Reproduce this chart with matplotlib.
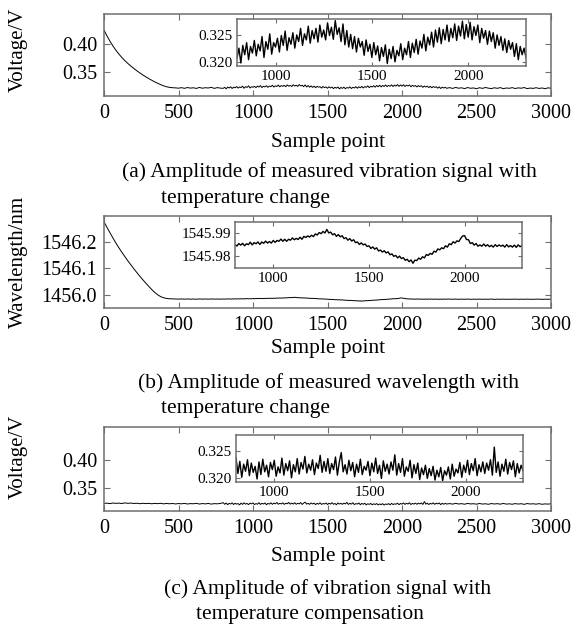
import numpy as np
import matplotlib
matplotlib.use('Agg')
import matplotlib.pyplot as plt

######################################################################
# data (sample index on x)

# sample spacing of the hand-read points
head_x = np.arange(0, 800, 20)       # 0 .. 780
mid_x = np.arange(800, 2310, 10)     # 800 .. 2300 (the inset window)
tail_x = np.arange(2320, 3001, 20)   # 2320 .. 3000

# (a) measured vibration amplitude, V
volt_a_head = [
    0.4250, 0.4145, 0.4050, 0.3965, 0.3888, 0.3820, 0.3758, 0.3703, 0.3653, 0.3606,
    0.3563, 0.3522, 0.3484, 0.3448, 0.3414, 0.3382, 0.3352, 0.3324, 0.3298, 0.3274,
    0.3253, 0.3236, 0.3225, 0.3219, 0.3216, 0.3211, 0.3220, 0.3208, 0.3222, 0.3212,
    0.3218, 0.3206, 0.3224, 0.3210, 0.3219, 0.3214, 0.3226, 0.3207, 0.3221, 0.3212,
]
volt_a_mid = [
    0.3208, 0.3226, 0.3199, 0.3231, 0.3214, 0.3236, 0.3205, 0.3229, 0.3217, 0.3240,
    0.3212, 0.3233, 0.3221, 0.3247, 0.3209, 0.3238, 0.3224, 0.3252, 0.3215, 0.3236,
    0.3228, 0.3244, 0.3219, 0.3249, 0.3231, 0.3257, 0.3222, 0.3245, 0.3233, 0.3254,
    0.3226, 0.3250, 0.3238, 0.3262, 0.3231, 0.3252, 0.3241, 0.3266, 0.3235, 0.3258,
    0.3243, 0.3262, 0.3237, 0.3268, 0.3246, 0.3259, 0.3241, 0.3272, 0.3249, 0.3264,
    0.3242, 0.3276, 0.3251, 0.3263, 0.3238, 0.3270, 0.3232, 0.3258, 0.3228, 0.3251,
    0.3225, 0.3247, 0.3219, 0.3244, 0.3228, 0.3238, 0.3213, 0.3241, 0.3220, 0.3233,
    0.3209, 0.3236, 0.3214, 0.3230, 0.3203, 0.3227, 0.3211, 0.3232, 0.3198, 0.3224,
    0.3207, 0.3229, 0.3201, 0.3222, 0.3212, 0.3234, 0.3205, 0.3226, 0.3214, 0.3238,
    0.3209, 0.3235, 0.3218, 0.3242, 0.3215, 0.3239, 0.3226, 0.3251, 0.3221, 0.3246,
    0.3232, 0.3255, 0.3228, 0.3259, 0.3237, 0.3263, 0.3234, 0.3260, 0.3241, 0.3268,
    0.3238, 0.3262, 0.3245, 0.3270, 0.3240, 0.3266, 0.3248, 0.3275, 0.3243, 0.3269,
    0.3246, 0.3273, 0.3241, 0.3265, 0.3249, 0.3268, 0.3236, 0.3262, 0.3244, 0.3258,
    0.3233, 0.3257, 0.3238, 0.3254, 0.3226, 0.3250, 0.3231, 0.3247, 0.3222, 0.3243,
    0.3218, 0.3240, 0.3224, 0.3236, 0.3211, 0.3234, 0.3205, 0.3229, 0.3214, 0.3226,
    0.3209,
]
volt_a_tail = [
    0.3221, 0.3206, 0.3224, 0.3210, 0.3218, 0.3203, 0.3222, 0.3209, 0.3215, 0.3201,
    0.3219, 0.3207, 0.3223, 0.3211, 0.3204, 0.3218, 0.3208, 0.3221, 0.3202, 0.3214,
    0.3209, 0.3220, 0.3205, 0.3216, 0.3210, 0.3222, 0.3203, 0.3213, 0.3207, 0.3219,
    0.3206, 0.3215, 0.3201, 0.3217, 0.3209,
]

# (b) measured wavelength, nm
wl_b_head = [
    1546.276, 1546.255, 1546.235, 1546.215, 1546.196, 1546.178, 1546.161, 1546.145, 1546.129, 1546.114,
    1546.099, 1546.085, 1546.071, 1546.058, 1546.045, 1546.033, 1546.021, 1546.010, 1546.001, 1545.994,
    1545.9895, 1545.9870, 1545.9858, 1545.9852, 1545.9849, 1545.9845, 1545.9852, 1545.9843, 1545.9851, 1545.9842,
    1545.9849, 1545.9841, 1545.9852, 1545.9845, 1545.9850, 1545.9843, 1545.9851, 1545.9846, 1545.9848, 1545.9844,
]
wl_b_mid = [
    1545.9849, 1545.9843, 1545.9854, 1545.9847, 1545.9855, 1545.9844, 1545.9853, 1545.9849, 1545.9860, 1545.9848,
    1545.9858, 1545.9853, 1545.9861, 1545.9850, 1545.9861, 1545.9855, 1545.9865, 1545.9856, 1545.9863, 1545.9856,
    1545.9868, 1545.9859, 1545.9868, 1545.9864, 1545.9874, 1545.9864, 1545.9873, 1545.9864, 1545.9873, 1545.9869,
    1545.9879, 1545.9871, 1545.9877, 1545.9872, 1545.9882, 1545.9873, 1545.9886, 1545.9881, 1545.9888, 1545.9883,
    1545.9891, 1545.9885, 1545.9897, 1545.9892, 1545.9903, 1545.9898, 1545.9908, 1545.9901, 1545.9917, 1545.9901,
    1545.9905, 1545.9893, 1545.9898, 1545.9886, 1545.9894, 1545.9884, 1545.9889, 1545.9876, 1545.9880, 1545.9869,
    1545.9876, 1545.9865, 1545.9871, 1545.9858, 1545.9861, 1545.9850, 1545.9857, 1545.9848, 1545.9852, 1545.9841,
    1545.9844, 1545.9832, 1545.9839, 1545.9829, 1545.9835, 1545.9821, 1545.9825, 1545.9816, 1545.9822, 1545.9812,
    1545.9817, 1545.9804, 1545.9808, 1545.9797, 1545.9801, 1545.9790, 1545.9798, 1545.9787, 1545.9791, 1545.9779,
    1545.9784, 1545.9773, 1545.9781, 1545.9766, 1545.9780, 1545.9778, 1545.9789, 1545.9784, 1545.9795, 1545.9790,
    1545.9805, 1545.9801, 1545.9810, 1545.9806, 1545.9820, 1545.9816, 1545.9830, 1545.9826, 1545.9835, 1545.9831,
    1545.9844, 1545.9838, 1545.9853, 1545.9849, 1545.9862, 1545.9856, 1545.9866, 1545.9863, 1545.9877, 1545.9888,
    1545.9889, 1545.9872, 1545.9871, 1545.9854, 1545.9858, 1545.9847, 1545.9854, 1545.9842, 1545.9848, 1545.9842,
    1545.9852, 1545.9842, 1545.9849, 1545.9840, 1545.9846, 1545.9838, 1545.9849, 1545.9841, 1545.9848, 1545.9842,
    1545.9847, 1545.9838, 1545.9849, 1545.9839, 1545.9845, 1545.9838, 1545.9847, 1545.9837, 1545.9848, 1545.9840,
    1545.9845,
]
wl_b_tail = [
    1545.9847, 1545.9839, 1545.9846, 1545.9838, 1545.9845, 1545.9840, 1545.9848, 1545.9837, 1545.9844, 1545.9839,
    1545.9846, 1545.9838, 1545.9843, 1545.9840, 1545.9847, 1545.9836, 1545.9844, 1545.9839, 1545.9845, 1545.9838,
    1545.9842, 1545.9840, 1545.9846, 1545.9837, 1545.9843, 1545.9839, 1545.9845, 1545.9838, 1545.9841, 1545.9840,
    1545.9844, 1545.9837, 1545.9842, 1545.9839, 1545.9843,
]

# (c) vibration amplitude after temperature compensation, V
volt_c_head = [
    0.3224, 0.3229, 0.3221, 0.3232, 0.3225, 0.3230, 0.3222, 0.3234, 0.3226, 0.3231,
    0.3223, 0.3228, 0.3219, 0.3227, 0.3221, 0.3226, 0.3218, 0.3225, 0.3220, 0.3227,
    0.3216, 0.3224, 0.3218, 0.3223, 0.3215, 0.3222, 0.3217, 0.3225, 0.3214, 0.3221,
    0.3218, 0.3226, 0.3213, 0.3222, 0.3216, 0.3224, 0.3212, 0.3221, 0.3217, 0.3223,
]
volt_c_mid = [
    0.3238, 0.3209, 0.3231, 0.3202, 0.3226, 0.3213, 0.3234, 0.3205, 0.3228, 0.3211,
    0.3222, 0.3199, 0.3230, 0.3207, 0.3235, 0.3212, 0.3224, 0.3203, 0.3229, 0.3216,
    0.3233, 0.3204, 0.3221, 0.3210, 0.3237, 0.3206, 0.3227, 0.3214, 0.3232, 0.3201,
    0.3225, 0.3212, 0.3236, 0.3208, 0.3229, 0.3217, 0.3240, 0.3210, 0.3226, 0.3215,
    0.3234, 0.3207, 0.3228, 0.3218, 0.3242, 0.3211, 0.3231, 0.3213, 0.3236, 0.3209,
    0.3227, 0.3216, 0.3239, 0.3206, 0.3230, 0.3247, 0.3212, 0.3225, 0.3208, 0.3233,
    0.3214, 0.3229, 0.3203, 0.3226, 0.3211, 0.3235, 0.3207, 0.3222, 0.3215, 0.3231,
    0.3205, 0.3228, 0.3212, 0.3237, 0.3209, 0.3224, 0.3200, 0.3232, 0.3213, 0.3226,
    0.3208, 0.3230, 0.3215, 0.3243, 0.3206, 0.3227, 0.3211, 0.3236, 0.3204, 0.3221,
    0.3213, 0.3233, 0.3201, 0.3225, 0.3209, 0.3228, 0.3198, 0.3219, 0.3207, 0.3224,
    0.3200, 0.3218, 0.3205, 0.3222, 0.3197, 0.3215, 0.3203, 0.3220, 0.3196, 0.3214,
    0.3206, 0.3221, 0.3199, 0.3226, 0.3204, 0.3217, 0.3210, 0.3229, 0.3202, 0.3224,
    0.3211, 0.3233, 0.3207, 0.3227, 0.3214, 0.3236, 0.3205, 0.3225, 0.3212, 0.3230,
    0.3209, 0.3228, 0.3215, 0.3234, 0.3206, 0.3257, 0.3211, 0.3230, 0.3204, 0.3226,
    0.3213, 0.3235, 0.3208, 0.3229, 0.3216, 0.3232, 0.3203, 0.3227, 0.3210, 0.3224,
    0.3214,
]
volt_c_tail = [
    0.3221, 0.3212, 0.3225, 0.3214, 0.3220, 0.3210, 0.3224, 0.3215, 0.3219, 0.3211,
    0.3223, 0.3213, 0.3218, 0.3209, 0.3222, 0.3214, 0.3220, 0.3211, 0.3224, 0.3212,
    0.3217, 0.3210, 0.3221, 0.3213, 0.3219, 0.3208, 0.3222, 0.3214, 0.3218, 0.3211,
    0.3220, 0.3209, 0.3216, 0.3212, 0.3218,
]

main_xticks = [0, 500, 1000, 1500, 2000, 2500, 3000]
inset_xticks = [1000, 1500, 2000]

volt_ticks = [0.35, 0.40]
volt_ticklabels = ['0.35', '0.40']
volt_inset_ticks = [0.320, 0.325]
volt_inset_ticklabels = ['0.320', '0.325']

wl_ticks = [1546.0, 1546.1, 1546.2]
wl_ticklabels = ['1456.0', '1546.1', '1546.2']   # as printed in the original
wl_inset_ticks = [1545.98, 1545.99]
wl_inset_ticklabels = ['1545.98', '1545.99']

captions = [
    ('(a) Amplitude of measured vibration signal with', 'temperature change'),
    ('(b) Amplitude of measured wavelength with', 'temperature change'),
    ('(c) Amplitude of vibration signal with', 'temperature compensation'),
]

######################################################################

W, H = 572.0, 629.0
FRAME = '#6e6e6e'

plt.rcParams['font.family'] = ['Liberation Serif', 'DejaVu Serif']

fig = plt.figure(figsize=(W / 100, H / 100), dpi=100)


def box(left, top, right, bottom):
    '''pixel box (from top-left of the picture) -> figure rect'''
    return [left / W, 1 - bottom / H, (right - left) / W, (bottom - top) / H]


def style(ax, size):
    for sp in ax.spines.values():
        sp.set_color(FRAME)
        sp.set_linewidth(1.1)
    ax.tick_params(direction='in', top=True, right=True, length=4,
                   width=0.8, color=FRAME, labelsize=size, pad=5)


def panel(main_rect, inset_rect, x, y, ix, iy, ylim, iylim,
          yt, ytl, iyt, iytl):
    ax = fig.add_axes(box(*main_rect))
    ax.plot(x, y, color='black', lw=0.7)
    ax.set_xlim(0, 3000)
    ax.set_ylim(*ylim)
    ax.set_xticks(main_xticks)
    ax.set_yticks(yt)
    ax.set_yticklabels(ytl)
    style(ax, 14.5)
    ax.tick_params(axis='x', pad=6)

    ins = fig.add_axes(box(*inset_rect))
    ins.plot(ix, iy, color='black', lw=1.0)
    ins.set_xlim(800, 2300)
    ins.set_ylim(*iylim)
    ins.set_xticks(inset_xticks)
    ins.set_yticks(iyt)
    ins.set_yticklabels(iytl)
    style(ins, 11)
    ins.tick_params(length=3, pad=3)
    return ax, ins


def stitch(head, mid, tail):
    return (np.concatenate([head_x, mid_x, tail_x]),
            np.concatenate([head, mid, tail]))


# (a)
xa, ya = stitch(volt_a_head, volt_a_mid, volt_a_tail)
panel((104, 14, 551, 96), (237, 19, 526, 66), xa, ya, mid_x, volt_a_mid,
      (0.3071, 0.4536), (0.31935, 0.3279),
      volt_ticks, volt_ticklabels, volt_inset_ticks, volt_inset_ticklabels)

# (b)
xb, yb = stitch(wl_b_head, wl_b_mid, wl_b_tail)
panel((104, 216, 551, 308), (235, 222, 522, 268), xb, yb, mid_x, wl_b_mid,
      (1545.951, 1546.298), (1545.9745, 1545.995),
      wl_ticks, wl_ticklabels, wl_inset_ticks, wl_inset_ticklabels)

# (c)
xc, yc = stitch(volt_c_head, volt_c_mid, volt_c_tail)
panel((104, 427, 551, 511), (236, 435, 523, 482), xc, yc, mid_x, volt_c_mid,
      (0.3089, 0.4589), (0.31935, 0.3279),
      volt_ticks, volt_ticklabels, volt_inset_ticks, volt_inset_ticklabels)

######################################################################
# labels and captions

for ylab, yc_px in [('Voltage/V', 50), ('Wavelength/nm', 262), ('Voltage/V', 457)]:
    fig.text(18 / W, 1 - yc_px / H, ylab, rotation=90, fontsize=15,
             ha='center', va='center')

for y_px in [142, 349, 556]:
    fig.text(328 / W, 1 - y_px / H, 'Sample point', fontsize=15.5,
             ha='center', va='center')

cap_pos = [((122, 172), (161, 198)),
           ((138, 383), (161, 409)),
           ((164, 589), (196, 615))]
for (l1, l2), ((x1, y1), (x2, y2)) in zip(captions, cap_pos):
    fig.text(x1 / W, 1 - y1 / H, l1, fontsize=15.5, ha='left', va='center')
    fig.text(x2 / W, 1 - y2 / H, l2, fontsize=15.5, ha='left', va='center')

fig.savefig('out.png', dpi=100)
